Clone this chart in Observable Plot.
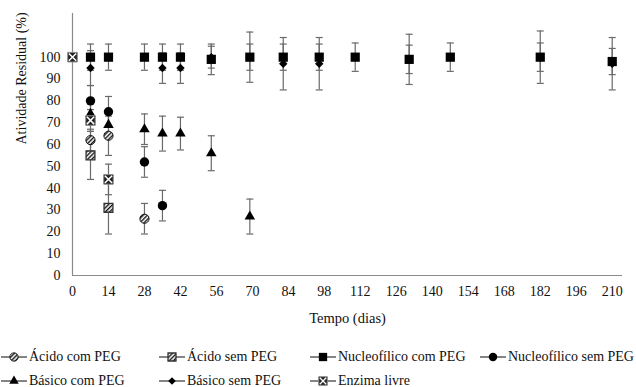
<!DOCTYPE html>
<html><head><meta charset="utf-8">
<script src="https://cdn.jsdelivr.net/npm/d3@7"></script>
<script src="https://cdn.jsdelivr.net/npm/@observablehq/plot@0.6"></script>
<style>
body{margin:0;background:#fff;font-family:'Liberation Serif',serif;}
#legend{position:relative;width:636px;height:57px;font-size:14px;color:#111;font-family:'Liberation Serif',serif;}
.item{position:absolute;display:flex;align-items:center;white-space:nowrap;height:20px;}
.item svg{margin-right:2px;overflow:visible}
svg text{font-family:'Liberation Serif',serif;}
</style></head><body>
<div id="chart"></div><div id="legend"></div>
<script>
// ---- data ----
const xTicks = [0,14,28,42,56,70,84,98,112,126,140,154,168,182,196,210];
const yTicks = [0,10,20,30,40,50,60,70,80,90,100];
const seriesNames = ["Ácido com PEG","Ácido sem PEG","Nucleofílico com PEG","Nucleofílico sem PEG","Básico com PEG","Básico sem PEG","Enzima livre"];

const acComDays = [7,14,28];
const acComVals = [62,64,26];
const acComErr  = [5,9,7];

const acSemDays = [7,14];
const acSemVals = [55,31];
const acSemErr  = [11,12];

const nucComDays = [7,14,28,35,42,54,69,82,96,110,131,147,182,210];
const nucComVals = [100,100,100,100,100,99,100,100,100,100,99,100,100,98];
const nucComErr  = [6,6,6,6,6,7,6,6,6,6.5,6.5,6.5,6.5,6];

const nucSemDays = [7,14,28,35];
const nucSemVals = [80,75,52,32];
const nucSemErr  = [7,7,7,7];

const basComDays = [7,14,28,35,42,54,69];
const basComVals = [74,69,67,65,65,56,27];
const basComErr  = [5,5,7,8,7.5,8,8];

const basSemDays = [7,35,42,54,69,82,96,131,182,210];
const basSemVals = [95,95,95,100,100,97,97,99,100,97];
const basSemErr  = [8,7,7,5,11.5,12,12,11.5,12,12];

const enzDays = [0,7,14];
const enzVals = [100,71,44];
const enzErr  = [0,5,7];

// ---- build tables ----
function rows(name, days, vals, errs){
  return days.map((d,i)=>({name, day:d, v:vals[i], e:errs[i], lo:vals[i]-errs[i], hi:vals[i]+errs[i]}));
}
const S = [
  rows(seriesNames[0], acComDays, acComVals, acComErr),
  rows(seriesNames[1], acSemDays, acSemVals, acSemErr),
  rows(seriesNames[2], nucComDays, nucComVals, nucComErr),
  rows(seriesNames[3], nucSemDays, nucSemVals, nucSemErr),
  rows(seriesNames[4], basComDays, basComVals, basComErr),
  rows(seriesNames[5], basSemDays, basSemVals, basSemErr),
  rows(seriesNames[6], enzDays, enzVals, enzErr)
];
const allRows = S.flat().filter(d=>d.e>0);
const caps = allRows.flatMap(d=>[{day:d.day,y:d.lo},{day:d.day,y:d.hi}]);

const capSymbol = {draw(ctx,size){const w=Math.sqrt(size/Math.PI);ctx.moveTo(-w,0);ctx.lineTo(w,0);}};
const errColor = "#6a6a6a";
const FF = "'Liberation Serif', serif";

const styles = [
  {symbol:"circle", r:4.6, fill:"url(#hatchC)", stroke:"#111", strokeWidth:1},
  {symbol:"square", r:5.0, fill:"url(#hatchS)", stroke:"#333", strokeWidth:1.3},
  {symbol:"square", r:5.2, fill:"#000"},
  {symbol:"circle", r:4.7, fill:"#000"},
  {symbol:"triangle", r:3.9, fill:"#000"},
  {symbol:"diamond2", r:3.8, fill:"#000"},
  {symbol:"square", r:5.4, fill:"#222", stroke:"#8a8a8a", strokeWidth:1}
];

const plot = Plot.plot({
  width: 636, height: 330,
  marginLeft: 72, marginRight: 14, marginTop: 13, marginBottom: 55,
  style: {fontFamily: FF, fontSize:"14px", background:"#fff", color:"#111"},
  x: {domain:[0,214], axis:null},
  y: {domain:[0,120], axis:null},
  marks: [
    Plot.ruleX([0], {stroke:"#8a8a8a", strokeWidth:1.2}),
    Plot.ruleY([0], {stroke:"#8a8a8a", strokeWidth:1.2}),
    Plot.axisY(yTicks, {tickSize:0, tickPadding:12, label:null, fontSize:14, fontFamily:FF}),
    Plot.axisX(xTicks, {tickSize:0, tickPadding:11, label:null, fontSize:14, fontFamily:FF}),
    Plot.text(["Atividade Residual (%)"], {frameAnchor:"left", dx:-51, rotate:-90, fontSize:14, fontFamily:FF}),
    Plot.text(["Tempo (dias)"], {frameAnchor:"bottom", dy:47, fontSize:14.5, fontFamily:FF}),
    Plot.ruleX(allRows, {x:"day", y1:"lo", y2:"hi", stroke:errColor, strokeWidth:1.2}),
    Plot.dot(caps, {x:"day", y:"y", symbol:capSymbol, r:3.5, stroke:errColor, strokeWidth:1.2, fill:"none"}),
    ...S.map((data,i)=>Plot.dot(data, {x:"day", y:"v", ...styles[i]})),
    Plot.dot(S[6], {x:"day", y:"v", symbol:"times", r:3.4, stroke:"#fff", strokeWidth:1.5, fill:"none"})
  ]
});

const defs = d3.select(plot).insert("defs", ":first-child");
function hatch(id, color, bg){
  const p = defs.append("pattern").attr("id",id).attr("patternUnits","userSpaceOnUse")
    .attr("width",3).attr("height",3).attr("patternTransform","rotate(45)");
  p.append("rect").attr("width",3).attr("height",3).attr("fill",bg);
  p.append("rect").attr("width",1.4).attr("height",3).attr("fill",color);
}
hatch("hatchC","#111","#fff");
hatch("hatchS","#111","#fff");
document.getElementById("chart").appendChild(plot);

// ---- legend ----
const legCols = [1,159,310,480];
const legRows = [17,41];
const symMap = {circle:d3.symbolCircle, square:d3.symbolSquare, triangle:d3.symbolTriangle, diamond2:d3.symbolDiamond2};
const legend = document.getElementById("legend");
seriesNames.forEach((name,i)=>{
  const col = i<4 ? i : i-4, row = i<4 ? 0 : 1;
  const st = styles[i];
  const div = document.createElement("div");
  div.className = "item";
  div.style.left = legCols[col]+"px";
  div.style.top = legRows[row]+"px";
  const r = st.r*0.9;
  const d = d3.symbol(symMap[st.symbol], r*r*Math.PI)();
  let inner = `<line x1="0" x2="26" y1="7" y2="7" stroke="#333" stroke-width="1.2"/>`;
  inner += `<path transform="translate(13,7)" d="${d}" fill="${st.fill}" stroke="${st.stroke||'none'}" stroke-width="${st.strokeWidth||0}"/>`;
  if(i===6){
    const t = d3.symbol(d3.symbolTimes, 3*3*Math.PI)();
    inner += `<path transform="translate(13,7)" d="${t}" fill="none" stroke="#fff" stroke-width="1.3"/>`;
  }
  div.innerHTML = `<svg width="26" height="14">${inner}</svg><span>${name}</span>`;
  legend.appendChild(div);
});
</script>
</body></html>
